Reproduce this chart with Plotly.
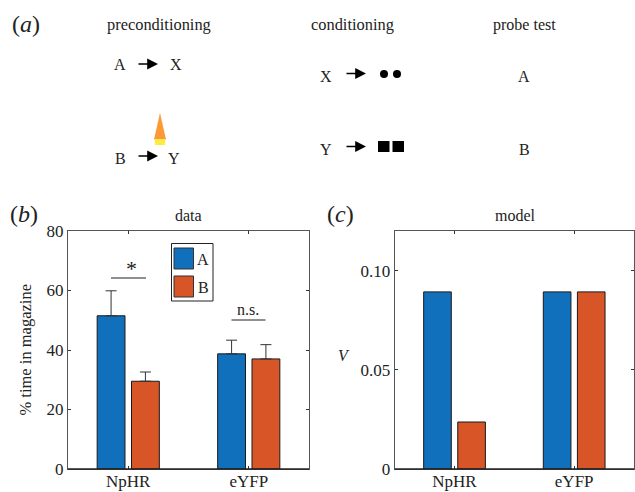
import plotly.graph_objects as go

W, H = 635, 492
FONT = "Liberation Serif"
BLUE = "#1170BC"
RED = "#D75526"
INK = "#1a1a1a"

groups = ["NpHR", "eYFP"]
legend_names = ["A", "B"]
data_a = [51.5, 38.7]
data_b = [29.5, 37.0]
err_a = [8.4, 4.6]
err_b = [3.1, 4.8]
model_a = [0.0893, 0.0893]
model_b = [0.0237, 0.0893]
data_ticks = [0, 20, 40, 60, 80]
model_ticks = [0, 0.05, 0.10]
model_tick_labels = ["0", "0.05", "0.10"]


def px(x):
    return x / W


def py(y):
    return 1 - y / H


fig = go.Figure()
x_pos = [1, 2]
for name, vals, errs, col in [("A", data_a, err_a, BLUE), ("B", data_b, err_b, RED)]:
    fig.add_trace(go.Bar(
        x=x_pos, y=vals, name=name, marker=dict(color=col, line=dict(color=INK, width=1)),
        error_y=dict(type="data", symmetric=False, array=errs, arrayminus=[0, 0],
                     color="#333333", thickness=1, width=5.5),
        xaxis="x", yaxis="y", showlegend=False))
for name, vals, col in [("A", model_a, BLUE), ("B", model_b, RED)]:
    fig.add_trace(go.Bar(
        x=x_pos, y=vals, name=name, marker=dict(color=col, line=dict(color=INK, width=1)),
        xaxis="x2", yaxis="y2", showlegend=False))

axis_common = dict(
    showgrid=False, zeroline=False, showline=True, linecolor="#555555", linewidth=1,
    mirror="ticks", ticks="inside", ticklen=3, tickcolor="#333333", tickwidth=1,
    tickfont=dict(family=FONT, size=17, color="#222222"),
)
xcommon = dict(axis_common, range=[0.5, 2.5], tickmode="array", tickvals=x_pos, ticktext=groups,
               ticklabelstandoff=-3)

shapes = []
annotations = []


def text(x, y, s, size=16, color="#222222", **kw):
    annotations.append(dict(xref="paper", yref="paper", x=px(x), y=py(y), text=s, showarrow=False,
                            xanchor="center", yanchor="middle",
                            font=dict(family=FONT, size=size, color=color), **kw))


def rect(x0, y0, x1, y1, fill, line=None):
    shapes.append(dict(type="rect", xref="paper", yref="paper", x0=px(x0), x1=px(x1), y0=py(y0), y1=py(y1),
                       fillcolor=fill, line=dict(color=line or fill, width=1 if line else 0)))


def hline(x0, x1, y, width=1.2):
    shapes.append(dict(type="line", xref="paper", yref="paper", x0=px(x0), x1=px(x1), y0=py(y), y1=py(y),
                       line=dict(color="#222222", width=width)))


def arrow(x0, x1, y):
    annotations.append(dict(xref="paper", yref="paper", x=px(x1), y=py(y), ax=x0 - x1, ay=0, text="",
                            showarrow=True, arrowhead=2, arrowsize=1.35, arrowwidth=1.6, arrowcolor="black"))


# Panel titles and letters
text(26, 24, "(<i>a</i>)", size=24)
text(24, 214, "(<i>b</i>)", size=24)
text(340, 214, "(<i>c</i>)", size=24)
text(188, 215, "data", size=16)
text(515, 215, "model", size=16)
text(159, 25, "preconditioning", size=16.4)
text(352, 25, "conditioning", size=16.4)
text(524, 25, "probe test", size=16)

# Panel a diagram
text(120, 64, "A")
text(176, 64, "X")
text(120, 158, "B")
text(174, 158, "Y")
text(326, 76, "X")
text(326, 149, "Y")
text(524, 76, "A")
text(524, 149, "B")
arrow(137, 158, 64)
arrow(137, 158, 156)
arrow(345, 366, 73.5)
arrow(345, 366, 146.5)
for cx in (384, 397):
    shapes.append(dict(type="circle", xref="paper", yref="paper", x0=px(cx - 4), x1=px(cx + 4),
                       y0=py(78), y1=py(70), fillcolor="black", line=dict(width=0)))
rect(378, 141, 389.5, 152, "black")
rect(392.5, 141, 404, 152, "black")
shapes.append(dict(type="path", xref="paper", yref="paper",
                   path=f"M {px(154)} {py(139.5)} L {px(160)} {py(113)} L {px(166)} {py(139.5)} Z",
                   fillcolor="#FB9A35", line=dict(width=0)))
rect(155, 139.5, 165, 145, "#FCEF3C")

# Panel b legend
rect(171.5, 243.5, 213, 301, "white", "#222222")
rect(174, 248, 193.5, 269, BLUE, "#333333")
rect(174, 276, 193.5, 297, RED, "#333333")
text(203.5, 259, legend_names[0], size=16)
text(203, 287, legend_names[1], size=16)

# Significance marks
hline(111, 146, 278)
text(131, 268, "*", size=22)
hline(231.5, 265.5, 320)
text(248, 309, "n.s.", size=16)

# Axis titles
text(25, 349.5, "% time in magazine", size=16.5, textangle=-90)
text(344, 355, "<i>V</i>", size=16)

fig.update_layout(
    width=W, height=H, autosize=False, margin=dict(l=0, r=0, t=0, b=0, autoexpand=False),
    paper_bgcolor="white", plot_bgcolor="rgba(0,0,0,0)",
    barmode="group", bargap=0.43, bargroupgap=0.19,
    xaxis=dict(xcommon, domain=[px(68), px(309)], anchor="y"),
    yaxis=dict(axis_common, domain=[py(469), py(231)], anchor="x", range=[0, 80], tickmode="array",
               tickvals=data_ticks),
    xaxis2=dict(xcommon, domain=[px(394.7), px(634)], anchor="y2"),
    yaxis2=dict(axis_common, domain=[py(469), py(231)], anchor="x2", range=[0, 0.12], tickmode="array",
                tickvals=model_ticks, ticktext=model_tick_labels),
    shapes=shapes, annotations=annotations,
)
fig.add_shape(type="line", xref="paper", yref="paper", x0=px(68), x1=px(309), y0=py(469), y1=py(469),
              line=dict(color="#222222", width=1.5))
fig.add_shape(type="line", xref="paper", yref="paper", x0=px(394.7), x1=px(634), y0=py(469), y1=py(469),
              line=dict(color="#222222", width=1.5))

fig.write_html("out.html", config=dict(displayModeBar=False),
               post_script="document.body.style.margin='0';document.documentElement.style.overflow='hidden';")
